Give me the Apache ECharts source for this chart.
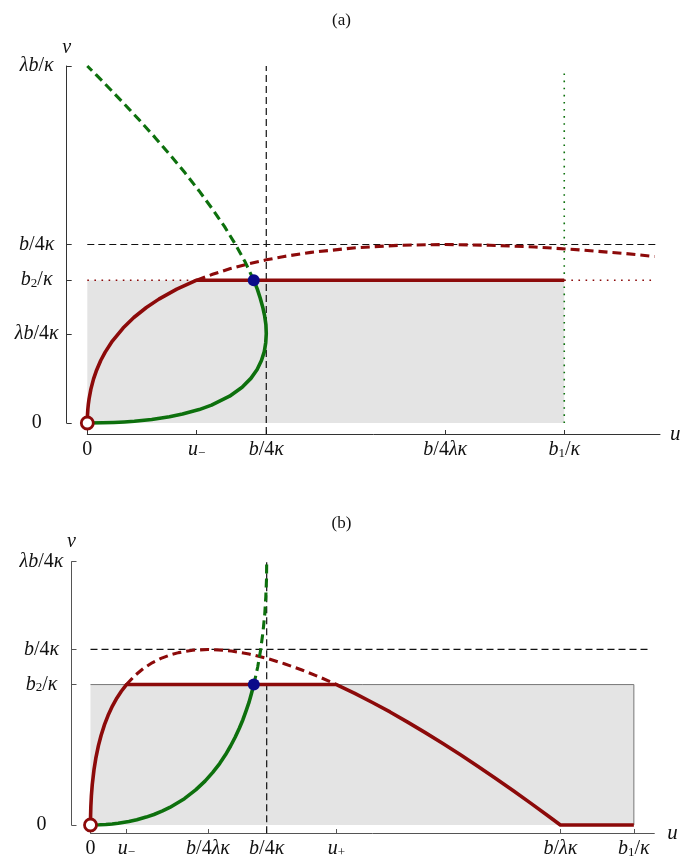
<!DOCTYPE html>
<html><head><meta charset="utf-8">
<script src="https://cdn.jsdelivr.net/npm/echarts@6/dist/echarts.min.js"></script>
<style>html,body{margin:0;padding:0;background:#fff}#c{width:683px;height:865px}</style>
</head><body><div id="c"></div>
<script>
// ---------- Panel (a) ----------
const X_TICKS_A = [0, 0.611, 1, 2, 2.665];
const X_LABELS_A = ['0', 'u₋', 'b/4κ', 'b/4λκ', 'b₁/κ'];
const Y_TICKS_A = [0, 0.5, 0.8, 1, 2];
const Y_LABELS_A = ['0', 'λb/4κ', 'b₂/κ', 'b/4κ', 'λb/κ'];
const X_MAX_A = 3.2, Y_MAX_A = 2;

const RED_SOLID_A = [[0,0],[0.001,0.044],[0.003,0.076],[0.006,0.107],[0.01,0.136],[0.02,0.19],[0.035,0.247],[0.05,0.291],[0.075,0.35],[0.1,0.397],[0.14,0.459],[0.2,0.532],[0.26,0.591],[0.33,0.647],[0.4,0.694],[0.5,0.75],[0.611,0.8],[2.665,0.8]];
const RED_DASH_A = [[0.611,0.8],[0.7,0.833],[0.8,0.865],[0.9,0.892],[1.0,0.914],[1.1,0.933],[1.25,0.956],[1.5,0.982],[1.75,0.996],[2.0,1.0],[2.25,0.996],[2.5,0.986],[2.75,0.97],[3.0,0.95],[3.17,0.933]];
const GREEN_SOLID_A = [[0,0],[0.087,0.001],[0.149,0.003],[0.207,0.006],[0.263,0.01],[0.36,0.02],[0.459,0.035],[0.532,0.05],[0.625,0.075],[0.694,0.1],[0.795,0.15],[0.865,0.2],[0.914,0.25],[0.949,0.3],[0.973,0.35],[0.989,0.4],[0.997,0.45],[1.0,0.5],[0.998,0.55],[0.991,0.6],[0.98,0.65],[0.966,0.7],[0.95,0.75],[0.93,0.8]];
const GREEN_DASH_A = [[0.93,0.8],[0.883,0.9],[0.828,1.0],[0.767,1.1],[0.698,1.2],[0.625,1.3],[0.547,1.4],[0.464,1.5],[0.378,1.6],[0.288,1.7],[0.195,1.8],[0.099,1.9],[0.05,1.95],[0,2.0]];
const RED_DOT_A1 = [[0,0.8],[0.611,0.8]];
const RED_DOT_A2 = [[2.665,0.8],[3.17,0.8]];
const GREEN_DOT_A = [[2.665,0],[2.665,1.97]];
const HDASH_A = [[0,1],[3.18,1]];
const VDASH_A = [[1,-0.062],[1,2]];
const FILL_A = [[0,0.8],[2.665,0.8]];
const BLUE_A = [[0.93,0.8]];

// ---------- Panel (b) ----------
const X_TICKS_B = [0, 0.204, 0.667, 1, 1.396, 2.667, 3.084];
const X_LABELS_B = ['0', 'u₋', 'b/4λκ', 'b/4κ', 'u₊', 'b/λκ', 'b₁/κ'];
const Y_TICKS_B = [0, 0.8, 1, 1.5];
const Y_LABELS_B = ['0', 'b₂/κ', 'b/4κ', 'λb/4κ'];
const X_MAX_B = 3.2, Y_MAX_B = 1.5;

const RED_SOLID_B = [[0,0],[0.0005,0.054],[0.002,0.107],[0.005,0.166],[0.01,0.23],[0.02,0.316],[0.03,0.379],[0.045,0.452],[0.06,0.51],[0.08,0.573],[0.1,0.625],[0.125,0.679],[0.15,0.724],[0.175,0.762],[0.204,0.8],[1.396,0.8],[1.5,0.75],[1.6,0.698],[1.7,0.644],[1.8,0.586],[1.9,0.526],[2.0,0.464],[2.1,0.4],[2.2,0.333],[2.3,0.265],[2.4,0.195],[2.5,0.123],[2.6,0.05],[2.667,0],[3.084,0]];
const RED_DASH_B = [[0.204,0.8],[0.25,0.85],[0.3,0.892],[0.35,0.924],[0.4,0.949],[0.45,0.968],[0.5,0.982],[0.58,0.996],[0.667,1.0],[0.75,0.996],[0.8,0.991],[0.9,0.974],[1.0,0.95],[1.1,0.919],[1.2,0.883],[1.3,0.843],[1.396,0.8]];
const GREEN_SOLID_B = [[0,0],[0.051,0.001],[0.087,0.003],[0.123,0.006],[0.157,0.01],[0.218,0.02],[0.263,0.03],[0.316,0.045],[0.36,0.06],[0.409,0.08],[0.45,0.1],[0.533,0.15],[0.597,0.2],[0.65,0.25],[0.694,0.3],[0.733,0.35],[0.766,0.4],[0.795,0.45],[0.821,0.5],[0.844,0.55],[0.865,0.6],[0.883,0.65],[0.9,0.7],[0.914,0.75],[0.927,0.8]];
const GREEN_DASH_B = [[0.927,0.8],[0.949,0.9],[0.966,1.0],[0.979,1.1],[0.989,1.2],[0.995,1.3],[0.999,1.4],[1.0,1.5]];
const BORDER_B = [[0,0.8],[3.084,0.8],[3.084,0]];
const HDASH_B = [[0,1],[3.18,1]];
const VDASH_B = [[1,-0.047],[1,1.5]];
const FILL_B = [[0,0.8],[3.084,0.8]];
const BLUE_B = [[0.927,0.8]];

const ORIGIN = [[0,0]];

// ---------- styling ----------
const RED = '#8c0a0a', GREEN = '#0d700d', BLUE = '#0b0b8a', GRAY = '#e4e4e4';
const FONT = 'Liberation Serif';
const SUB = {'₁':'1','₂':'2','₋':'−','₊':'+'};
function richText(str){
  let out = '';
  for (const ch of str){
    let key, c = ch;
    if (SUB[ch]) { key = 's'; c = SUB[ch]; }
    else if (/[0-9\/()+]/.test(ch)) key = 'r';
    else key = 'i';
    out += '{' + key + '|' + c + '}';
  }
  return out;
}
const RICH = {
  i: {fontFamily: FONT, fontStyle: 'italic', fontSize: 20, lineHeight: 20, color: '#111'},
  r: {fontFamily: FONT, fontSize: 20, lineHeight: 20, color: '#111'},
  s: {fontFamily: FONT, fontSize: 13, lineHeight: 8, verticalAlign: 'bottom', color: '#111'}
};
function labelFor(ticks, labels){
  return function(v){
    for (let k = 0; k < ticks.length; k++) if (Math.abs(ticks[k] - v) < 1e-6) return richText(labels[k]);
    return '';
  };
}
function xAxis(gi, max, ticks, labels, offset, axisColor, nameGap){
  return {
    type: 'value', gridIndex: gi, min: 0, max: max, offset: offset,
    axisLine: {show: true, onZero: false, lineStyle: {color: axisColor, width: 1}},
    axisTick: {show: true, inside: true, length: 4, customValues: ticks, lineStyle: {color: axisColor}},
    axisLabel: {show: true, customValues: ticks, formatter: labelFor(ticks, labels), margin: 6, rich: RICH},
    splitLine: {show: false},
    name: 'u', nameLocation: 'end', nameGap: nameGap,
    nameTextStyle: {fontFamily: FONT, fontStyle: 'italic', fontSize: 21, color: '#111'}
  };
}
function yAxis(gi, max, ticks, labels, offset, axisColor){
  return {
    type: 'value', gridIndex: gi, min: 0, max: max, offset: offset,
    axisLine: {show: true, onZero: false, lineStyle: {color: axisColor, width: 1}},
    axisTick: {show: true, inside: true, length: 5, customValues: ticks, lineStyle: {color: axisColor}},
    axisLabel: {show: true, customValues: ticks, formatter: labelFor(ticks, labels), margin: 30, align: 'center', rich: RICH},
    splitLine: {show: false},
    name: 'v', nameLocation: 'end', nameGap: 8,
    nameTextStyle: {fontFamily: FONT, fontStyle: 'italic', fontSize: 20, color: '#111', align: 'center'}
  };
}
function line(gi, data, color, width, type, z){
  return {
    type: 'line', xAxisIndex: gi, yAxisIndex: gi, data: data, symbol: 'none',
    smooth: false, clip: false, silent: true, z: z,
    lineStyle: {color: color, width: width, type: type, cap: 'butt', join: 'round'}
  };
}
function fill(gi, data){
  return {type: 'line', xAxisIndex: gi, yAxisIndex: gi, data: data, symbol: 'none', silent: true, z: 1,
    lineStyle: {width: 0}, areaStyle: {color: GRAY, opacity: 1, origin: 'start'}};
}
function dot(gi, data, size, color, border, z){
  return {type: 'scatter', xAxisIndex: gi, yAxisIndex: gi, data: data, symbol: 'circle', symbolSize: size,
    clip: false, silent: true, z: z,
    itemStyle: {color: color, borderColor: border || color, borderWidth: border ? 2.8 : 0, opacity: 1}};
}
const series = [
  // (a)
  fill(0, FILL_A),
  line(0, HDASH_A, '#111', 1.2, [7,4], 2),
  line(0, VDASH_A, '#111', 1.2, [7,4], 2),
  line(0, GREEN_DOT_A, GREEN, 1.6, [1.6,5.5], 2),
  line(0, RED_DOT_A1, RED, 1.6, [1.6,5.5], 2),
  line(0, RED_DOT_A2, RED, 1.6, [1.6,5.5], 2),
  line(0, RED_DASH_A, RED, 3.1, [9,5], 3),
  line(0, GREEN_DASH_A, GREEN, 3.1, [9,5], 3),
  line(0, RED_SOLID_A, RED, 3.6, 'solid', 4),
  line(0, GREEN_SOLID_A, GREEN, 3.6, 'solid', 4),
  dot(0, BLUE_A, 12, BLUE, null, 6),
  dot(0, ORIGIN, 12, '#fff', RED, 6),
  // (b)
  fill(1, FILL_B),
  line(1, BORDER_B, '#777', 1, 'solid', 2),
  line(1, HDASH_B, '#111', 1.2, [7,4], 2),
  line(1, VDASH_B, '#111', 1.2, [7,4], 2),
  line(1, RED_DASH_B, RED, 3.1, [9,5], 3),
  line(1, GREEN_DASH_B, GREEN, 3.1, [9,5], 3),
  line(1, RED_SOLID_B, RED, 3.6, 'solid', 4),
  line(1, GREEN_SOLID_B, GREEN, 3.6, 'solid', 4),
  dot(1, BLUE_B, 12, BLUE, null, 6),
  dot(1, ORIGIN, 12, '#fff', RED, 6)
];

const chart = echarts.init(document.getElementById('c'), null, {renderer: 'canvas'});
chart.setOption({
  animation: false,
  backgroundColor: '#fff',
  title: [
    {text: '(a)', left: 'center', top: 7, textStyle: {fontFamily: FONT, fontSize: 17, fontWeight: 'normal', color: '#111'}},
    {text: '(b)', left: 'center', top: 510, textStyle: {fontFamily: FONT, fontSize: 17, fontWeight: 'normal', color: '#111'}}
  ],
  grid: [
    {left: 87.3, top: 66, width: 572.7, height: 357},
    {left: 90.5, top: 561.7, width: 563.8, height: 263.3}
  ],
  xAxis: [
    xAxis(0, X_MAX_A, X_TICKS_A, X_LABELS_A, 11, '#333', 10),
    xAxis(1, X_MAX_B, X_TICKS_B, X_LABELS_B, 8, '#555', 13)
  ],
  yAxis: [
    yAxis(0, Y_MAX_A, Y_TICKS_A, Y_LABELS_A, 20.6, '#333'),
    yAxis(1, Y_MAX_B, Y_TICKS_B, Y_LABELS_B, 19, '#555')
  ],
  series: series
});
</script></body></html>
